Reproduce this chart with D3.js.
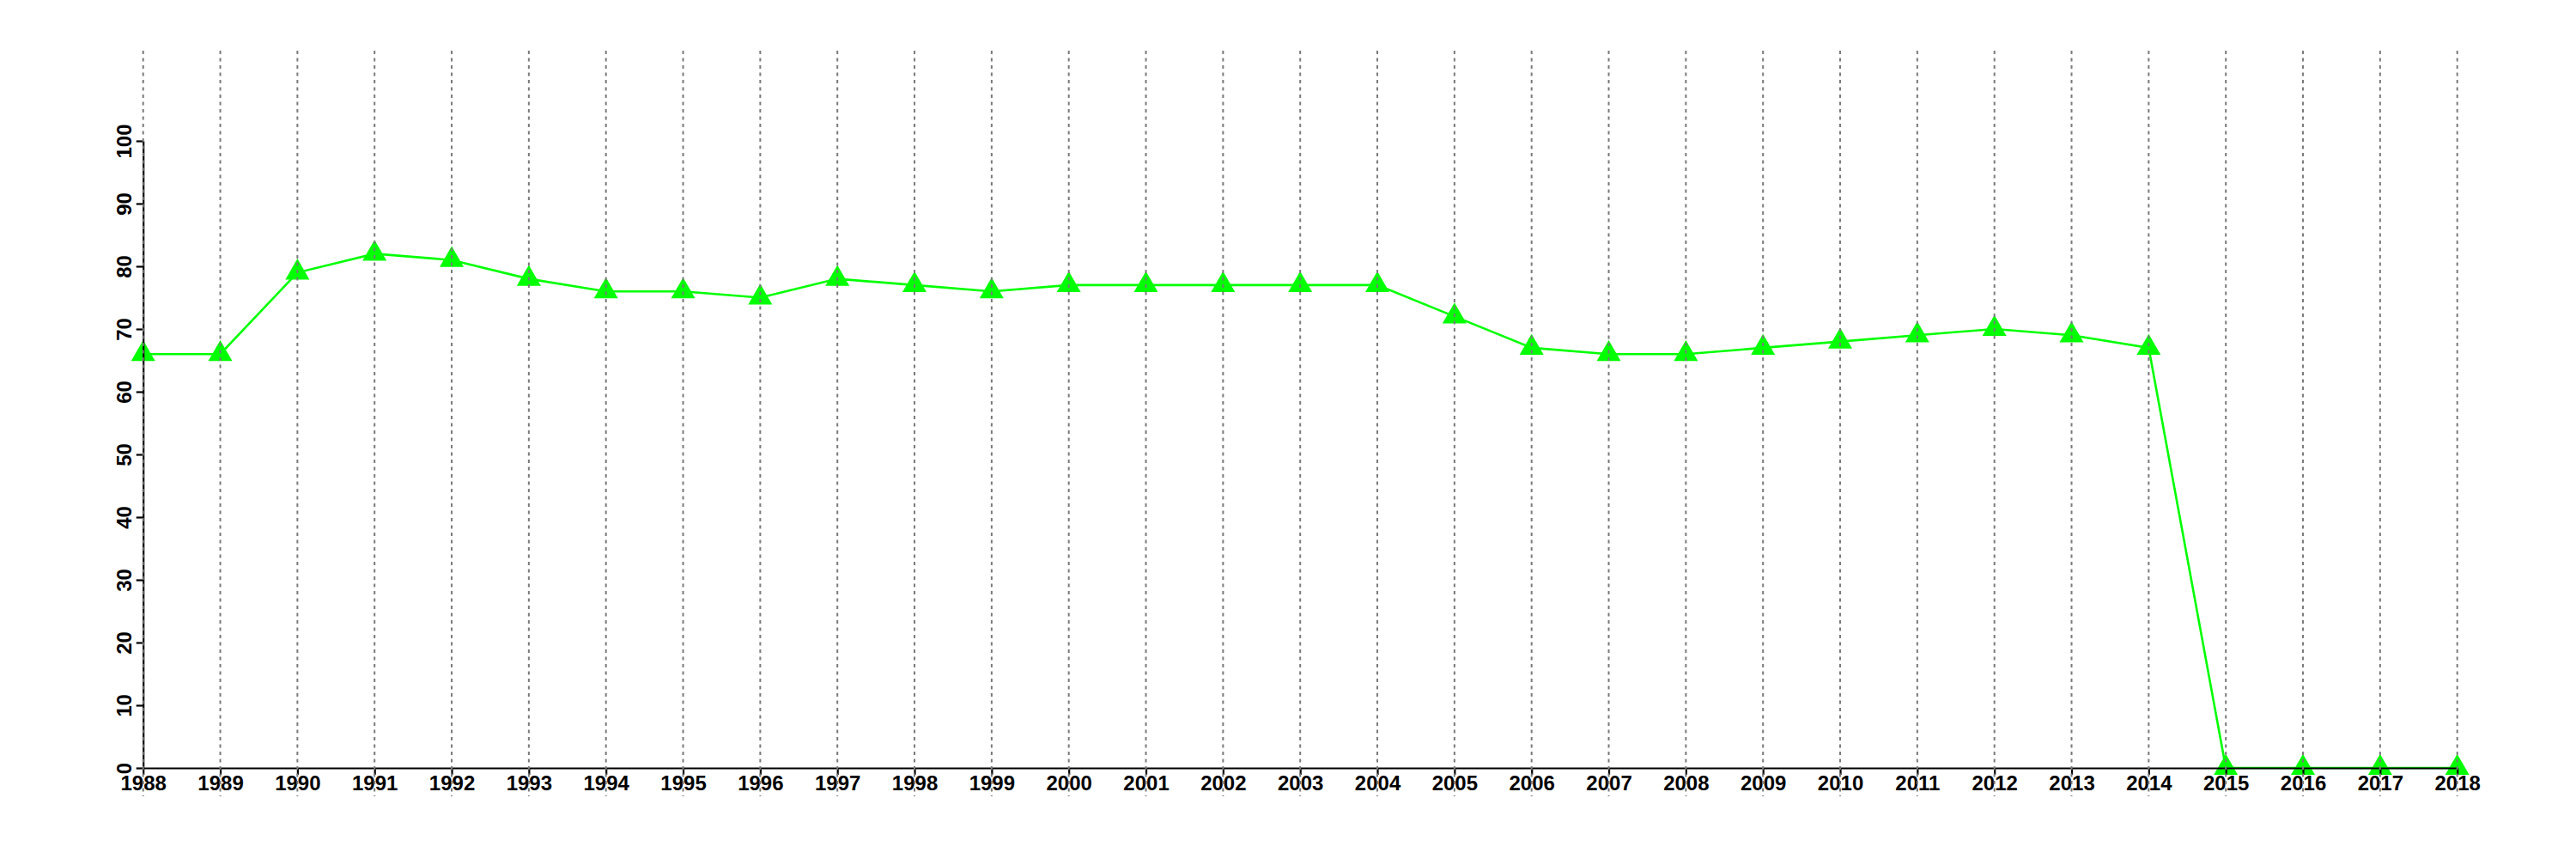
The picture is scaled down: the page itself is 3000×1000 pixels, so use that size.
<!DOCTYPE html>
<html>
<head>
<meta charset="utf-8">
<script src="https://cdn.jsdelivr.net/npm/d3@7"></script>
<style>
  html, body { margin: 0; padding: 0; background: #fff; }
  svg { display: block; }
  text { font-family: "Liberation Sans", Arial, Helvetica, sans-serif; font-weight: bold; }
</style>
</head>
<body>
<svg id="chart" width="3000" height="1000"></svg>
<script>
const years = [1988,1989,1990,1991,1992,1993,1994,1995,1996,1997,1998,1999,2000,2001,2002,2003,2004,2005,2006,2007,2008,2009,2010,2011,2012,2013,2014,2015,2016,2017,2018];
const values = [66,66,79,82,81,78,76,76,75,78,77,76,77,77,77,77,77,72,67,66,66,67,68,69,70,69,67,0,0,0,0];
const yTicks = [0,10,20,30,40,50,60,70,80,90,100];

const svg = d3.select("#chart");
const x = d3.scaleLinear().domain([1988, 2018]).range([166.7, 2861.7]);
const y = d3.scaleLinear().domain([0, 100]).range([894, 164]);

const data = years.map((yr, i) => ({ year: yr, value: values[i] }));

// line
svg.append("path")
  .datum(data)
  .attr("fill", "none")
  .attr("stroke", "#00ff00")
  .attr("stroke-width", 2.6)
  .attr("d", d3.line().x(d => x(d.year)).y(d => y(d.value)));

// points
svg.append("g").selectAll("path")
  .data(data)
  .join("path")
  .attr("transform", d => `translate(${x(d.year)},${y(d.value)})`)
  .attr("d", d3.symbol().type(d3.symbolTriangle).size(340))
  .attr("fill", "#00ff00");

// x axis
const xAxis = d3.axisBottom(x).tickValues(years).tickFormat(d3.format("d")).tickSize(8).tickSizeOuter(0);
const gx = svg.append("g").attr("transform", "translate(0,894)").call(xAxis);
gx.select(".domain").attr("stroke", "#000").attr("stroke-width", 2.2);
gx.selectAll(".tick line").attr("stroke", "#000").attr("stroke-width", 2.2);
gx.selectAll(".tick text").attr("font-size", 24).attr("fill", "#000").attr("y", 9).attr("dy", "0.71em");

// y axis
const yAxis = d3.axisLeft(y).tickValues(yTicks).tickSize(8).tickSizeOuter(0);
const gy = svg.append("g").attr("transform", "translate(166.7,0)").call(yAxis);
gy.select(".domain").attr("stroke", "#000").attr("stroke-width", 2.2);
gy.selectAll(".tick line").attr("stroke", "#000").attr("stroke-width", 2.2);
gy.selectAll(".tick text")
  .attr("font-size", 24)
  .attr("fill", "#000")
  .attr("x", null).attr("dy", null)
  .attr("text-anchor", "middle")
  .attr("transform", "translate(-14,0) rotate(-90)");

gx.attr("font-family", null); gy.attr("font-family", null);

// vertical dotted gridlines (drawn on top)
svg.append("g").selectAll("line")
  .data(years)
  .join("line")
  .attr("x1", d => x(d)).attr("x2", d => x(d))
  .attr("y1", 59).attr("y2", 927)
  .attr("stroke", "#7a7a7a")
  .attr("stroke-width", 2)
  .attr("stroke-dasharray", "4,4.5");
</script>
</body>
</html>
